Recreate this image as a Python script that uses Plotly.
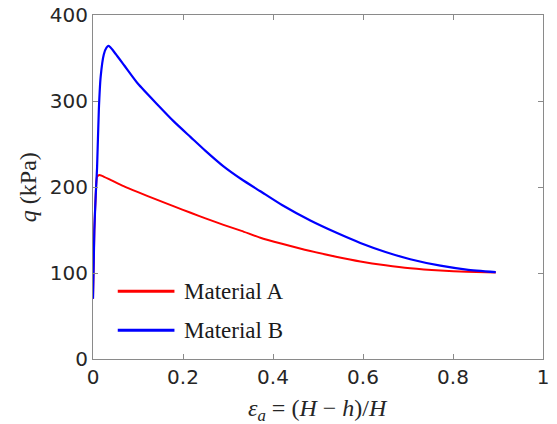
import plotly.graph_objects as go

# Axial strain and deviator stress, Material A
strain_a = [0, 0.003, 0.006, 0.009, 0.014, 0.02, 0.04, 0.068, 0.10, 0.143, 0.18,
            0.217, 0.25, 0.29, 0.33, 0.372, 0.42, 0.483, 0.54, 0.594, 0.65, 0.705,
            0.772, 0.83, 0.895]
q_a = [70, 150, 190, 212, 214, 213, 208, 201, 194, 185, 177.5, 170, 163.5, 156, 149,
       141, 134, 125.5, 119, 113.5, 109, 105.5, 102.8, 101.4, 100.5]

# Axial strain and deviator stress, Material B
strain_b = [0, 0.003, 0.006, 0.009, 0.013, 0.017, 0.024, 0.030, 0.035, 0.05, 0.07,
            0.10, 0.143, 0.18, 0.217, 0.25, 0.29, 0.33, 0.372, 0.42, 0.483, 0.54,
            0.594, 0.65, 0.705, 0.772, 0.83, 0.895]
q_b = [70, 150, 190, 222, 290, 328, 354, 362, 364, 355, 341, 320, 296, 276, 258, 242,
       224, 209, 195, 179, 161, 147, 135, 124.5, 116, 108.5, 104, 101]

names = ["Material A", "Material B"]
colors = ["#ff0000", "#0000ff"]

x_ticks = [0, 0.2, 0.4, 0.6, 0.8, 1]
x_ticktext = ["0", "0.2", "0.4", "0.6", "0.8", "1"]
y_ticks = [0, 100, 200, 300, 400]

fig = go.Figure()
fig.add_trace(go.Scatter(x=strain_a, y=q_a, mode="lines", name=names[0],
                         line=dict(color=colors[0], width=2, shape="spline",
                                   smoothing=0.6)))
fig.add_trace(go.Scatter(x=strain_b, y=q_b, mode="lines", name=names[1],
                         line=dict(color=colors[1], width=2.2, shape="spline",
                                   smoothing=0.6)))

axis_common = dict(showline=True, linecolor="#8a8a8a", linewidth=1, mirror="ticks",
                   ticks="inside", ticklen=5, tickcolor="#8a8a8a", showgrid=False,
                   zeroline=False, automargin=False,
                   tickfont=dict(family="DejaVu Sans", size=20, color="#262626"))

fig.update_xaxes(range=[0, 1], tickvals=x_ticks, ticktext=x_ticktext, **axis_common)
fig.update_yaxes(range=[0, 400], tickvals=y_ticks, **axis_common)

serif = dict(family="Liberation Serif", size=24, color="#262626")

# Axis titles
fig.add_annotation(text="<i>ε</i><sub><i>a</i></sub> = (<i>H</i> − <i>h</i>)/<i>H</i>",
                   xref="paper", yref="paper", x=0.5, y=-0.148, xanchor="center",
                   yanchor="middle", showarrow=False, font=serif)
fig.add_annotation(text="<i>q</i> (kPa)", xref="paper", yref="paper", x=-0.144, y=0.5,
                   xanchor="center", yanchor="middle", textangle=-90, showarrow=False,
                   font=serif)

# Legend drawn inside the axes
legend_y = [0.197, 0.0835]
for name, color, ly in zip(names, colors, legend_y):
    fig.add_shape(type="line", xref="paper", yref="paper", x0=0.055, x1=0.181,
                  y0=ly, y1=ly, line=dict(color=color, width=3))
    fig.add_annotation(text=name, xref="paper", yref="paper", x=0.198, y=ly,
                       xanchor="left", yanchor="middle", showarrow=False,
                       font=dict(family="Liberation Serif", size=23, color="#1a1a1a"))

fig.update_layout(width=557, height=424, showlegend=False,
                  margin=dict(l=93, r=14, t=15, b=65),
                  plot_bgcolor="white", paper_bgcolor="white")

fig.write_html("out.html")
